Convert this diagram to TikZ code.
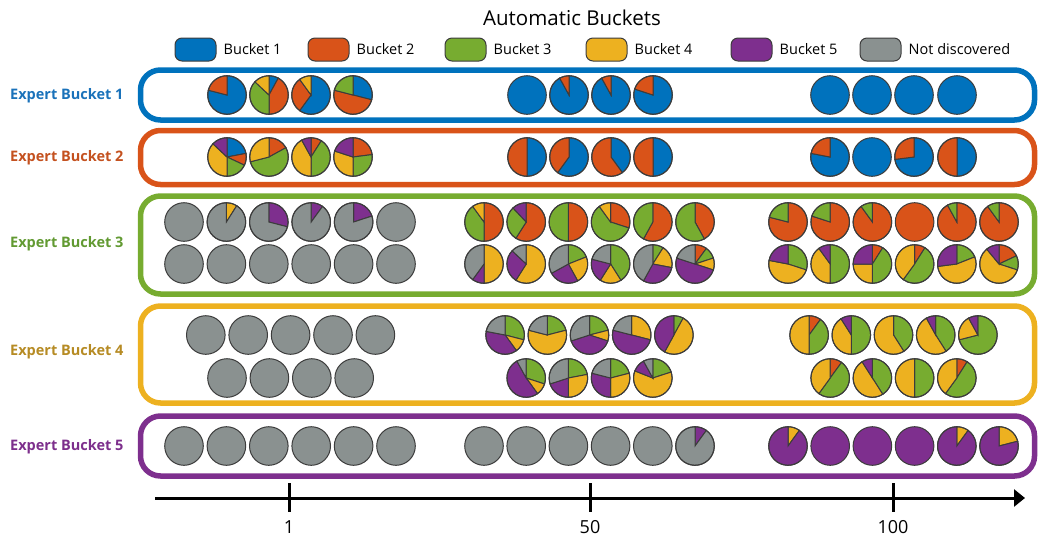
\documentclass[tikz,border=0pt]{standalone}
\usepackage{fontspec}
\setmainfont{Open Sans}
\usetikzlibrary{positioning,arrows.meta}

\definecolor{bkt1}{HTML}{0072BD}
\definecolor{bkt2}{HTML}{D95319}
\definecolor{bkt3}{HTML}{77AC30}
\definecolor{bkt4}{HTML}{EDB120}
\definecolor{bkt5}{HTML}{7E2F8E}
\definecolor{bkt6}{HTML}{8A9190}
\definecolor{pieline}{HTML}{3C3C3C}
\definecolor{lab1}{HTML}{1A72BA}
\definecolor{lab2}{HTML}{C4511F}
\definecolor{lab3}{HTML}{629A32}
\definecolor{lab4}{HTML}{B68B24}
\definecolor{lab5}{HTML}{7D2F8C}

\tikzset{
  frame/.style={line width=5.5pt, rounded corners=20pt},
  swatch/.style={draw=pieline, line width=1pt, rounded corners=7pt, minimum width=41pt, minimum height=23pt, inner sep=0pt},
  legtext/.style={font=\fontsize{14.5}{17}\selectfont, inner sep=0pt, anchor=west},
  rowlabel/.style={font=\fontsize{14.5}{17}\selectfont\bfseries, inner sep=0pt, anchor=west},
  ticklabel/.style={font=\fontsize{18}{20}\selectfont, inner sep=0pt, anchor=base},
  axis/.style={line width=3pt, -{Triangle[length=11pt,width=17pt]}},
  tick/.style={line width=3pt},
}

\def\pierad{19.3}
% pie at (x,y), shares in percent: bucket 1..5, not discovered
\newcommand{\piechart}[3]{%
  \xdef\pieang{-90}%
  \foreach \v [count=\i] in {#3}{%
    \pgfmathsetmacro\pieend{\pieang+3.6*\v}%
    \ifdim\v pt>99.5pt
      \fill[bkt\i] (#1,#2) circle[radius=\pierad];
    \else\ifdim\v pt>0pt
      \filldraw[fill=bkt\i, draw=pieline, line width=1pt] (#1,#2) -- ++(\pieang:\pierad) arc[start angle=\pieang, end angle=\pieend, radius=\pierad] -- cycle;
    \fi\fi
    \xdef\pieang{\pieend}%
  }%
  \draw[pieline, line width=1pt] (#1,#2) circle[radius=\pierad];
}

\begin{document}
\begin{tikzpicture}[x=1pt, y=-1pt]
\useasboundingbox (0,0) rectangle (1038,539);

\node[font=\fontsize{20.5}{24}\selectfont, inner sep=0pt] (title) at (572,18) {Automatic Buckets};

\node[swatch, fill=bkt1] (sw1) at (195.5,49.5) {};
\node[legtext, right=7pt of sw1] (lt1) {Bucket 1};
\node[swatch, fill=bkt2] (sw2) at (328.5,49.5) {};
\node[legtext, right=7pt of sw2] (lt2) {Bucket 2};
\node[swatch, fill=bkt3] (sw3) at (465.5,49.5) {};
\node[legtext, right=7pt of sw3] (lt3) {Bucket 3};
\node[swatch, fill=bkt4] (sw4) at (606.5,49.5) {};
\node[legtext, right=7pt of sw4] (lt4) {Bucket 4};
\node[swatch, fill=bkt5] (sw5) at (751.5,49.5) {};
\node[legtext, right=7pt of sw5] (lt5) {Bucket 5};
\node[swatch, fill=bkt6] (sw6) at (880.5,49.5) {};
\node[legtext, right=7pt of sw6] (lt6) {Not discovered};

\node[rowlabel, text=lab1] (ex1) at (10,96) {Expert Bucket 1};
\node[rowlabel, text=lab2] (ex2) at (10,158) {Expert Bucket 2};
\node[rowlabel, text=lab3] (ex3) at (10,244) {Expert Bucket 3};
\node[rowlabel, text=lab4] (ex4) at (10,352) {Expert Bucket 4};
\node[rowlabel, text=lab5] (ex5) at (10,447) {Expert Bucket 5};

\draw[frame, bkt1] (140.5,70) rectangle (1034.5,120);
\draw[frame, bkt2] (140.5,130.5) rectangle (1034.5,184.5);
\draw[frame, bkt3] (140.5,196) rectangle (1034.5,294);
\draw[frame, bkt4] (140.5,306) rectangle (1034.5,403);
\draw[frame, bkt5] (140.5,416) rectangle (1034.5,476);

\piechart{227}{95}{79,21}
\piechart{269}{95}{8,42,37,13}
\piechart{311}{95}{60,30,0,10}
\piechart{353}{95}{29,50,21}
\piechart{527}{95}{100}
\piechart{569}{95}{92,8}
\piechart{611}{95}{92,8}
\piechart{653}{95}{80,20}
\foreach \px in {830,872,914,957}
  \piechart{\px}{95}{100};

\piechart{227}{157}{22,10,18,37,13}
\piechart{269}{157}{0,17,54,29}
\piechart{311}{157}{0,9,41,42,8}
\piechart{353}{157}{0,23,27,30,20}
\piechart{527}{157}{50,50}
\piechart{569}{157}{60,40}
\piechart{611}{157}{40,60}
\piechart{653}{157}{50,50}
\piechart{830}{157}{78,22}
\piechart{872}{157}{100}
\piechart{914}{157}{73,27}
\piechart{957}{157}{50,50}

\piechart{184}{222}{0,0,0,0,0,100}
\piechart{226.4}{222}{0,0,0,9,0,91}
\piechart{268.8}{222}{0,0,0,0,29,71}
\piechart{311.2}{222}{0,0,0,0,10,90}
\piechart{353.6}{222}{0,0,0,0,20,80}
\piechart{396}{222}{0,0,0,0,0,100}
\foreach \px in {184,226.4,268.8,311.2,353.6,396}
  \piechart{\px}{264}{0,0,0,0,0,100};
\piechart{484}{222}{0,50,40,10}
\piechart{526.2}{222}{0,59,29,0,12}
\piechart{568.4}{222}{0,50,50}
\piechart{610.6}{222}{0,30,60,10}
\piechart{652.8}{222}{0,58,42}
\piechart{695}{222}{0,42,58}
\piechart{484}{264}{0,0,0,50,10,40}
\piechart{526.2}{264}{0,0,0,59,28,13}
\piechart{568.4}{264}{0,0,19,23,25,33}
\piechart{610.6}{264}{0,0,41,18,20,21}
\piechart{652.8}{264}{0,0,9,19,30,42}
\piechart{695}{264}{0,10,10,10,50,20}
\piechart{788}{222}{0,79,21}
\piechart{830.2}{222}{0,80,20}
\piechart{872.4}{222}{0,90,10}
\piechart{914.6}{222}{0,100}
\piechart{956.8}{222}{0,92,8}
\piechart{999}{222}{0,90,10}
\piechart{788}{264}{0,0,30,48,22}
\piechart{830.2}{264}{0,0,50,40,10}
\piechart{872.4}{264}{0,9,41,25,25}
\piechart{914.6}{264}{0,9,51,40}
\piechart{956.8}{264}{0,0,19,54,27}
\piechart{999}{264}{0,18,12,59,11}

\foreach \px in {205.8,248.2,290.6,333,375.4}
  \piechart{\px}{335}{0,0,0,0,0,100};
\foreach \px in {227,269.4,311.8,354.2}
  \piechart{\px}{378}{0,0,0,0,0,100};
\piechart{505.1}{335}{0,0,29,11,38,22}
\piechart{547.3}{335}{0,0,21,58,0,21}
\piechart{589.5}{335}{0,0,21,9,40,30}
\piechart{631.7}{335}{0,0,0,29,50,21}
\piechart{673.9}{335}{0,0,8,50,42}
\piechart{526.2}{378}{0,0,30,10,52,8}
\piechart{568.4}{378}{0,0,22,28,20,30}
\piechart{610.6}{378}{0,0,21,29,29,21}
\piechart{652.8}{378}{0,0,20,61,11,8}
\piechart{809.1}{335}{0,10,40,50}
\piechart{851.3}{335}{0,0,50,41,9}
\piechart{893.5}{335}{0,0,41,59}
\piechart{935.7}{335}{0,0,41,51,8}
\piechart{977.9}{335}{0,0,71,21,8}
\piechart{830.2}{378}{0,10,50,40}
\piechart{872.4}{378}{0,0,41,50,9}
\piechart{914.6}{378}{0,0,50,50}
\piechart{956.8}{378}{0,9,51,40}

\foreach \px in {184,226.4,268.8,311.2,353.6,396,484,526.2,568.4,610.6,652.8}
  \piechart{\px}{446}{0,0,0,0,0,100};
\piechart{695}{446}{0,0,0,0,10,90}
\piechart{788}{446}{0,0,0,10,90}
\foreach \px in {830.2,872.4,914.6}
  \piechart{\px}{446}{0,0,0,0,100};
\piechart{956.8}{446}{0,0,0,10,90}
\piechart{999}{446}{0,0,0,21,79}

\coordinate (axstart) at (155,498);
\coordinate (axend) at (1025,498);
\draw[axis] (axstart) -- (axend);
\foreach \tx/\tl [count=\n] in {289/1,590/50,893/100}{
  \draw[tick] (\tx,483) -- (\tx,512);
  \node[ticklabel] (tl\n) at (\tx,533.5) {\tl};
}

\end{tikzpicture}
\end{document}
